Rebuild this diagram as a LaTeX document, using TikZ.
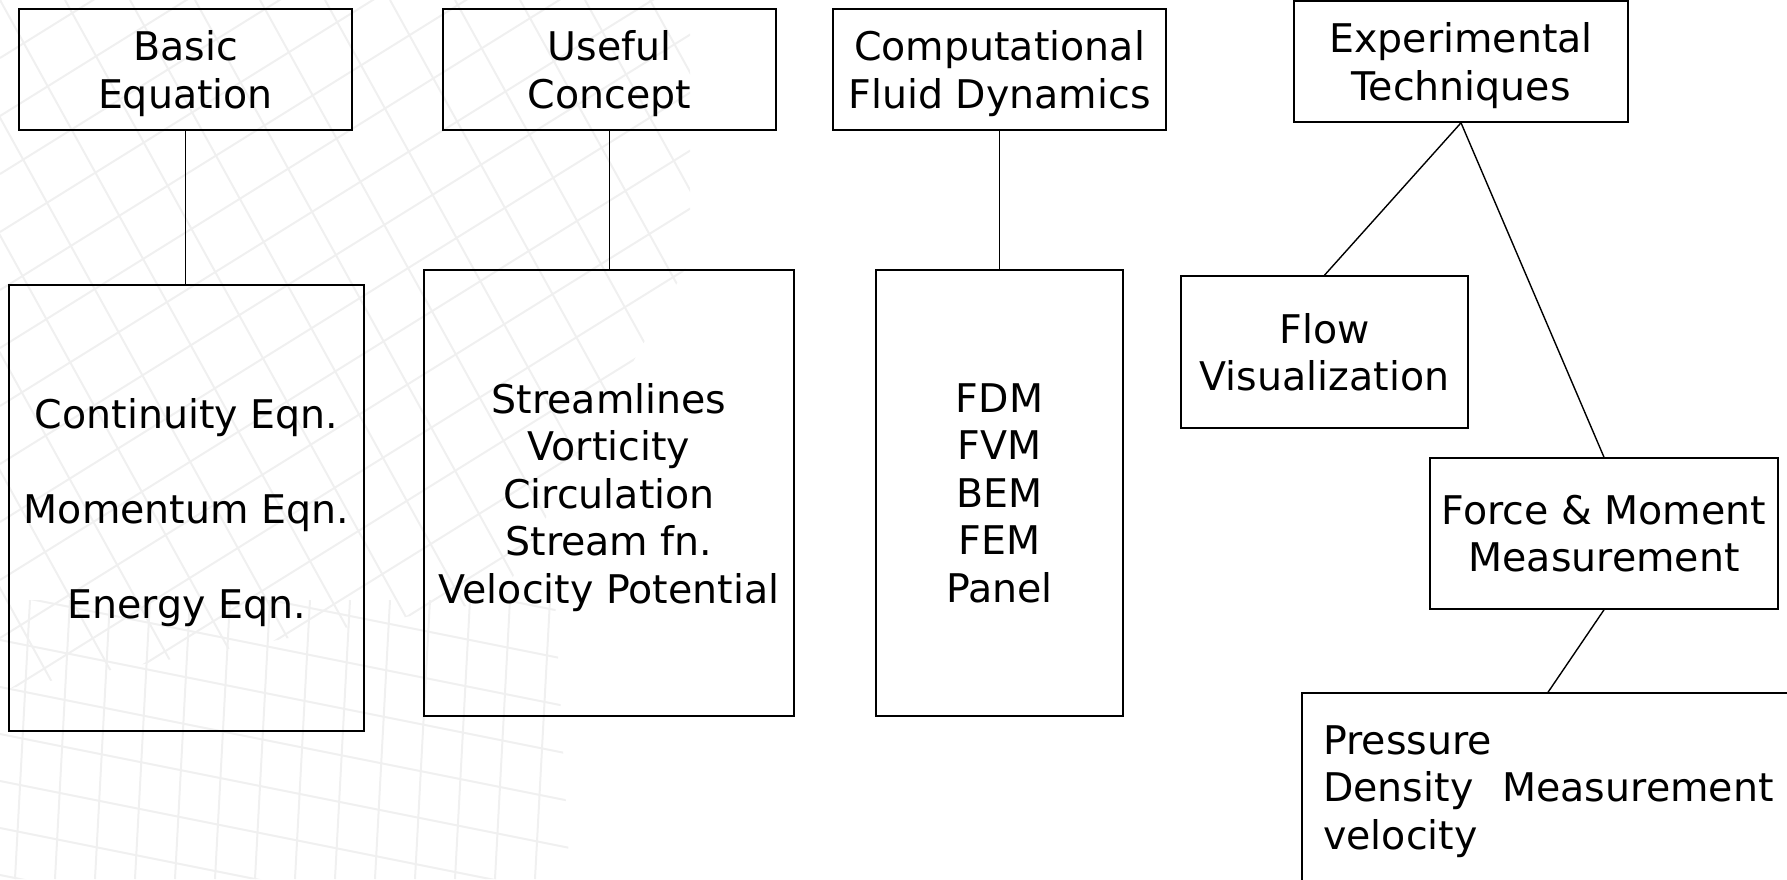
\documentclass[tikz,border=0pt]{standalone}
\usepackage{fontspec}
\setmainfont{DejaVu Sans}
\begin{document}
\begin{tikzpicture}[x=1pt,y=-1pt,
  box/.style={draw, line width=1.6pt, inner sep=0pt, align=center, text depth=0pt,
              font=\fontsize{39.5}{47.5}\selectfont},
  conn/.style={line width=1.4pt},
  mesh/.style={black!6, line width=2pt}]
\useasboundingbox (0,0) rectangle (1787,879);
\clip (0,0) rectangle (1787,879);
% faint background mesh
\begin{scope}
  \clip (0,0) -- (690,0) -- (690,260) -- (500,600) -- (0,690) -- cycle;
  \foreach \i in {-12,...,12} \draw[mesh] (\i*65,0) -- ++(420,760);
  \foreach \j in {0,...,24} \draw[mesh] (0,\j*58) -- ++(900,-560);
\end{scope}
\begin{scope}
  \clip (0,600) -- (555,600) -- (570,879) -- (0,879) -- cycle;
  \foreach \k in {0,...,14} \draw[mesh] (30+\k*40,600) -- ++(-15,279);
  \foreach \m in {-3,...,6} \draw[mesh] (0,640+\m*47) -- ++(600,120);
\end{scope}
% header boxes
\node[box, minimum width=333pt, minimum height=121pt] (bh) at (185.5,69.5) {Basic\\Equation};
\node[box, minimum width=333pt, minimum height=121pt] (uh) at (609.5,69.5) {Useful\\Concept};
\node[box, minimum width=333pt, minimum height=121pt] (ch) at (999.5,69.5) {Computational\\Fluid Dynamics};
\node[box, minimum width=334pt, minimum height=121pt] (eh) at (1461,61.5) {Experimental\\Techniques};
% list boxes
\node[box, minimum width=355pt, minimum height=446pt] (bl) at (186.5,508)
  {Continuity Eqn.\\[47.5pt]Momentum Eqn.\\[47.5pt]Energy Eqn.};
\node[box, minimum width=370pt, minimum height=446pt] (ul) at (609,493)
  {Streamlines\\Vorticity\\Circulation\\Stream fn.\\Velocity Potential};
\node[box, minimum width=247pt, minimum height=446pt] (cl) at (999.5,493)
  {FDM\\FVM\\BEM\\FEM\\Panel};
\node[box, minimum width=287pt, minimum height=152pt] (fv) at (1324.5,352) {Flow\\Visualization};
\node[box, minimum width=348pt, minimum height=151pt] (fm) at (1604,533.5) {Force \& Moment\\Measurement};
\node[box, minimum width=598pt, minimum height=307pt] (ms) at (1601,846.5) {};
\node[inner sep=0pt, anchor=north west, align=left, text depth=0pt,
      font=\fontsize{39.5}{47.5}\selectfont] (mt) at (1323,725)
  {Pressure\\Density\hspace{29pt}Measurement\\velocity};
\coordinate (mstop) at (1547.5,693);
% connectors
\draw[conn] (bh.south) -- (bh.south |- bl.north);
\draw[conn] (uh.south) -- (uh.south |- ul.north);
\draw[conn] (ch.south) -- (ch.south |- cl.north);
\draw[conn] (eh.south) -- (fv.north);
\draw[conn] (eh.south) -- (fm.north);
\draw[conn] (fm.south) -- (mstop);
\end{tikzpicture}
\end{document}
